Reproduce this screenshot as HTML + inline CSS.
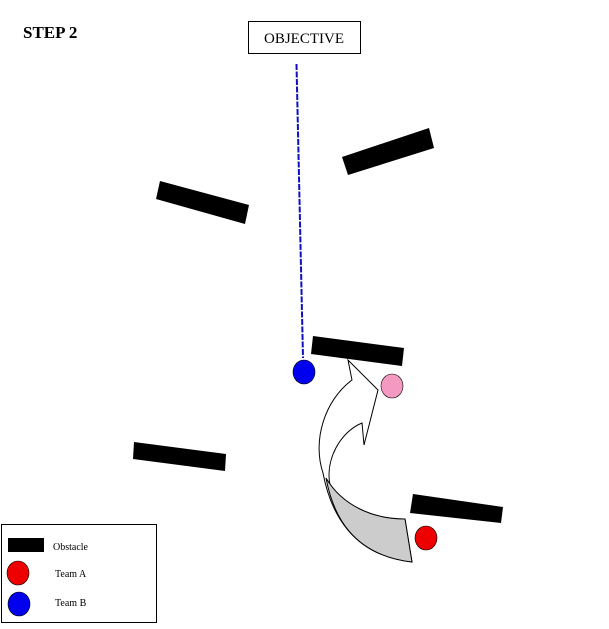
<!DOCTYPE html>
<html><head><meta charset="utf-8"><style>
html,body{margin:0;padding:0;background:#fff;}
svg{display:block;}
text{font-family:"Liberation Serif",serif;}
</style></head><body>
<svg width="609" height="629" viewBox="0 0 609 629" xmlns="http://www.w3.org/2000/svg">
<text x="23" y="38" font-size="17" font-weight="bold">STEP 2</text>
<rect x="248.5" y="21.5" width="112" height="32" fill="#fff" stroke="#000"/>
<text x="304" y="43" font-size="15" text-anchor="middle">OBJECTIVE</text>
<line x1="296.5" y1="64" x2="303" y2="358" stroke="#1010c0" stroke-width="2" stroke-dasharray="6,1.5"/>
<polygon points="342,157 429,128 434,148 348,175" fill="#000"/>
<polygon points="160,181 249,205 245,224 156,199" fill="#000"/>
<polygon points="313,336 404,348 402,366 311,354" fill="#000"/>
<polygon points="134,442 226,454 225,471 133,459" fill="#000"/>
<polygon points="413,494 503,507 501,523 410,513" fill="#000"/>
<!-- arrow -->
<path d="M348,360 L352,380 C325,400 312,440 323,473 C330,510 350,555 412,562 L405,519 C370,520 340,505 330,485 C325,460 340,432 362,423 L364,445 L378,390 Z" fill="#fff" stroke="#000" stroke-width="1"/>
<path d="M326,478 C333,515 352,555 412,562 L405,519 C372,519 342,505 326,478 Z" fill="#cccccc" stroke="#000" stroke-width="1"/>
<ellipse cx="304" cy="372" rx="11" ry="12" fill="#0000ee" stroke="#000" stroke-width="0.6"/>
<ellipse cx="392" cy="386" rx="11" ry="12" fill="#f49ac2" stroke="#000" stroke-width="0.6"/>
<ellipse cx="426" cy="538" rx="11" ry="12" fill="#ee0000" stroke="#000" stroke-width="0.6"/>
<!-- legend -->
<rect x="1.5" y="524.5" width="155" height="98" fill="#fff" stroke="#000"/>
<rect x="8" y="538" width="36" height="14" fill="#000"/>
<text x="53" y="550" font-size="10">Obstacle</text>
<ellipse cx="18" cy="573" rx="11" ry="12" fill="#ee0000" stroke="#000" stroke-width="0.6"/>
<text x="55" y="577" font-size="10">Team A</text>
<ellipse cx="19" cy="604" rx="11" ry="12" fill="#0000ee" stroke="#000" stroke-width="0.6"/>
<text x="55" y="606" font-size="10">Team B</text>
</svg>
</body></html>
